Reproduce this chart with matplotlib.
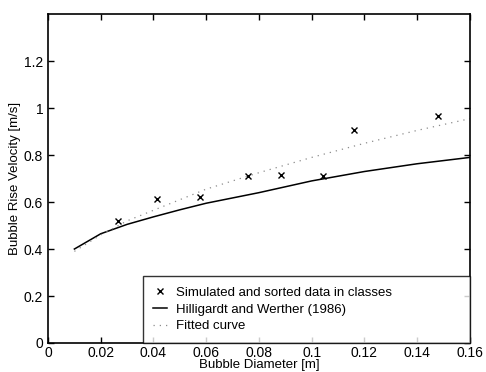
### Bubble rise velocity vs bubble diameter ###
import numpy as np
import matplotlib.pyplot as plt

plt.rcParams['font.family'] = ['Liberation Sans', 'DejaVu Sans']

# simulated and sorted data in classes
sim_d = [0.0265, 0.0413, 0.0578, 0.0758, 0.0883, 0.1043, 0.116, 0.148]
sim_u = [0.518, 0.611, 0.620, 0.709, 0.717, 0.709, 0.908, 0.965]

# Hilligardt and Werther (1986)
hw_d = [0.01, 0.02, 0.03, 0.04, 0.05, 0.06, 0.08, 0.10, 0.12, 0.14, 0.16]
hw_u = [0.40, 0.465, 0.505, 0.537, 0.567, 0.595, 0.64, 0.69, 0.73, 0.763, 0.79]

# fitted curve
fit_d = [0.01, 0.02, 0.03, 0.04, 0.05, 0.06, 0.08, 0.10, 0.12, 0.14, 0.16]
fit_u = [0.39, 0.46, 0.52, 0.565, 0.61, 0.655, 0.725, 0.79, 0.85, 0.905, 0.955]

fig = plt.figure(figsize=(4.86, 3.72), dpi=100)
ax = fig.add_axes([0.0988, 0.078, 0.868, 0.884])

ax.plot(sim_d, sim_u, 'kx', ms=5, mew=1.0, label='Simulated and sorted data in classes')
ax.plot(hw_d, hw_u, 'k-', lw=1.1, label='Hilligardt and Werther (1986)')
ax.plot(fit_d, fit_u, color='0.55', lw=0.9, ls=(0, (1, 4)), label='Fitted curve')

ax.set_xlim(0, 0.16)
ax.set_ylim(0, 1.4)
ax.set_xticks(np.arange(0, 0.161, 0.02))
ax.set_xticklabels(['0', '0.02', '0.04', '0.06', '0.08', '0.1', '0.12', '0.14', '0.16'])
ax.set_yticks(np.arange(0, 1.21, 0.2))
ax.set_yticklabels(['0', '0.2', '0.4', '0.6', '0.8', '1', '1.2'])
ax.tick_params(direction='in', top=True, right=True, length=4, width=1, labelsize=10)
ax.tick_params(axis='x', pad=2.5)
for s in ax.spines.values():
    s.set_linewidth(1.2)

ax.set_xlabel('Bubble Diameter [m]', fontsize=9.5, labelpad=-1)
ax.set_ylabel('Bubble Rise Velocity [m/s]', fontsize=9.5, labelpad=2)

# legend box stretched to the right edge like the matlab one
leg = ax.legend(loc='lower left', bbox_to_anchor=(0.225, 0, 0.775, 0.204), mode='expand',
                fontsize=9.5, frameon=True, fancybox=False, borderaxespad=0,
                handlelength=1.0, handletextpad=0.7, borderpad=0.8, labelspacing=0.35)
leg.get_frame().set_edgecolor('black')
leg.get_frame().set_linewidth(1.0)

fig.savefig('out.png', dpi=100)
